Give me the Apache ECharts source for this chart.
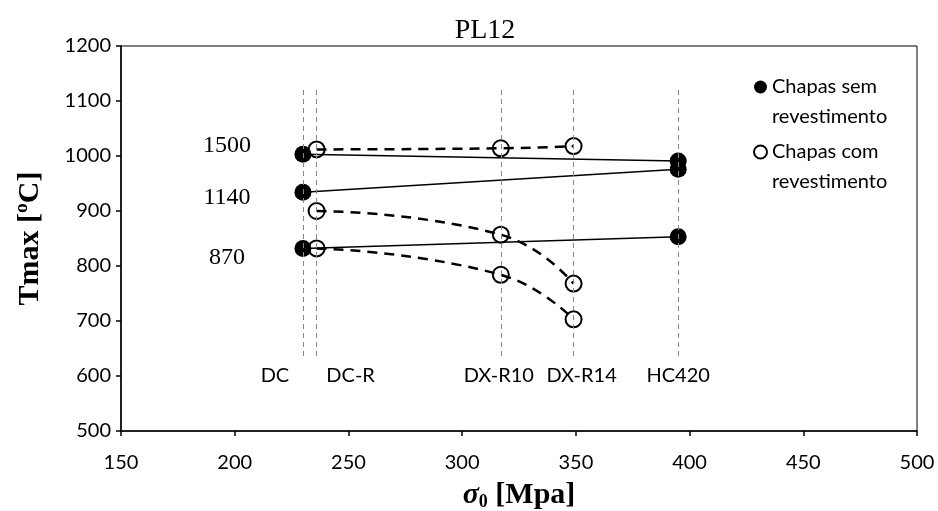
<!DOCTYPE html>
<html>
<head>
<meta charset="utf-8">
<script src="https://cdn.jsdelivr.net/npm/echarts@6/dist/echarts.min.js"></script>
<style>
  html, body { margin: 0; padding: 0; background: #fff; }
  #chart { width: 938px; height: 511px; }
</style>
</head>
<body>
<div id="chart"></div>
<script>
// steel grades and their yield stress (MPa)
const gradeNames = ['DC', 'DC-R', 'DX-R10', 'DX-R14', 'HC420'];
const gradeStress = [230, 236, 317, 349, 395];
const guideTop = 1120;
const guideBottom = 634;

// uncoated sheets (DC, HC420)
const semX = [230, 395];
const sem1500 = [1003, 991];
const sem1140 = [934, 976];
const sem870 = [832, 853];

// coated sheets (DC-R, DX-R10, DX-R14)
const comX = [236, 317, 349];
const com1500 = [1012, 1014, 1018];
const com1140 = [900, 857, 768];
const com870 = [832, 784, 703];

const curveNames = ['1500', '1140', '870'];

const font = 'Lato';
const serif = 'Liberation Serif';
const labelOffsets = [[-76, -9], [-76, 5], [-76, 9]];
const gradeLabelOffsets = [[-28, 0], [34, 0], [-2, 0], [8, 0], [0, 0]];

const semSets = [sem1500, sem1140, sem870];
const comSets = [com1500, com1140, com870];

const pairs = (xs, ys) => xs.map((x, i) => [x, ys[i]]);

const semPoints = [];
semX.forEach((x, i) => {
  semSets.forEach((set, k) => {
    const item = { value: [x, set[i]] };
    if (i === 0) {
      item.label = {
        show: true,
        position: 'inside',
        formatter: curveNames[k],
        offset: labelOffsets[k],
        fontFamily: serif,
        fontSize: 24,
        color: '#000'
      };
    }
    semPoints.push(item);
  });
});

const comPoints = [];
comSets.forEach(set => pairs(comX, set).forEach(p => comPoints.push(p)));

const series = [];

// vertical guides for each grade
series.push({
  type: 'line',
  data: [],
  silent: true,
  markLine: {
    symbol: ['none', 'none'],
    silent: true,
    animation: false,
    lineStyle: { color: '#888', width: 1, type: [5, 4] },
    data: gradeNames.map((name, i) => [
      {
        coord: [gradeStress[i], guideTop],
        label: {
          show: true,
          position: 'end',
          formatter: name,
          distance: 8,
          offset: gradeLabelOffsets[i],
          fontFamily: font,
          fontSize: 20,
          color: '#000'
        }
      },
      { coord: [gradeStress[i], guideBottom] }
    ])
  }
});

semSets.forEach(set => {
  series.push({
    type: 'line',
    data: pairs(semX, set),
    symbol: 'none',
    silent: true,
    z: 4,
    lineStyle: { color: '#000', width: 1.5 }
  });
});

comSets.forEach(set => {
  series.push({
    type: 'line',
    data: pairs(comX, set),
    symbol: 'none',
    smooth: 0.5,
    silent: true,
    z: 4,
    lineStyle: { color: '#000', width: 2.5, type: [10, 7] }
  });
});

series.push({
  name: 'Chapas sem revestimento',
  type: 'scatter',
  data: semPoints,
  symbolSize: 17,
  z: 3,
  itemStyle: { color: '#000', opacity: 1 }
});

series.push({
  name: 'Chapas com revestimento',
  type: 'scatter',
  data: comPoints,
  symbolSize: 16,
  z: 3,
  itemStyle: { color: 'rgba(255,255,255,0)', borderColor: '#000', borderWidth: 2, opacity: 1 }
});

const chart = echarts.init(document.getElementById('chart'));
chart.setOption({
  animation: false,
  backgroundColor: '#fff',
  title: {
    text: 'PL12',
    left: 480,
    top: 12,
    textAlign: 'center',
    textStyle: { fontFamily: serif, fontSize: 28, fontWeight: 'normal', color: '#000' }
  },
  legend: {
    orient: 'vertical',
    left: 753,
    top: 42,
    padding: 0,
    itemGap: -25,
    itemWidth: 13,
    itemHeight: 13,
    data: ['Chapas sem revestimento', 'Chapas com revestimento'],
    // blank first line keeps the icon level with the first text line
    formatter: name => '\u00a0\n' + name.replace(' revestimento', '\nrevestimento'),
    textStyle: {
      fontFamily: font,
      fontSize: 20,
      lineHeight: 30,
      color: '#000'
    }
  },
  grid: {
    left: 121,
    right: 21,
    top: 46,
    bottom: 80,
    containLabel: false,
    outerBoundsMode: 'none',
    show: true,
    borderColor: '#000',
    borderWidth: 1
  },
  xAxis: {
    type: 'value',
    min: 150,
    max: 500,
    interval: 50,
    name: '{s|σ}{sub|0}{t| [Mpa]}',
    nameLocation: 'middle',
    nameGap: 48,
    nameTextStyle: {
      rich: {
        s: { fontFamily: serif, fontSize: 30, fontWeight: 'bold', fontStyle: 'italic', color: '#000' },
        sub: { fontFamily: serif, fontSize: 18, fontWeight: 'bold', color: '#000', padding: [14, 0, 0, 0] },
        t: { fontFamily: serif, fontSize: 30, fontWeight: 'bold', color: '#000' }
      }
    },
    axisLine: { lineStyle: { color: '#000', width: 1.5 } },
    axisTick: { show: true, length: 5, lineStyle: { color: '#000', width: 1.5 } },
    axisLabel: { fontFamily: font, fontSize: 20, color: '#000', margin: 22 },
    splitLine: { show: false }
  },
  yAxis: {
    type: 'value',
    min: 500,
    max: 1200,
    interval: 100,
    name: 'Tmax [ºC]',
    nameLocation: 'middle',
    nameGap: 76,
    nameTextStyle: { fontFamily: serif, fontSize: 30, fontWeight: 'bold', color: '#000' },
    axisLine: { show: true, lineStyle: { color: '#000', width: 1.5 } },
    axisTick: { show: true, length: 5, lineStyle: { color: '#000', width: 1.5 } },
    axisLabel: { fontFamily: font, fontSize: 20, color: '#000', margin: 10, formatter: v => String(v) },
    splitLine: { show: false }
  },
  series: series
});
</script>
</body>
</html>
